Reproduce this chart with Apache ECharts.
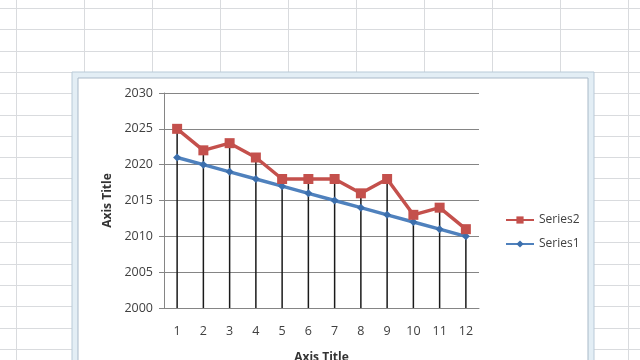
<!DOCTYPE html>
<html>
<head>
<meta charset="utf-8">
<script src="https://cdn.jsdelivr.net/npm/echarts@6/dist/echarts.min.js"></script>
<style>html,body{margin:0;padding:0;background:#fff;}#c{width:640px;height:360px;}</style>
</head>
<body>
<div id="c"></div>
<script>
const categories = ['1','2','3','4','5','6','7','8','9','10','11','12'];
const series1 = [2021, 2020, 2019, 2018, 2017, 2016, 2015, 2014, 2013, 2012, 2011, 2010];
const series2 = [2025, 2022, 2023, 2021, 2018, 2018, 2018, 2016, 2018, 2013, 2014, 2011];
const yTicks = { min: 2000, max: 2030, interval: 5 };
const seriesNames = ['Series1', 'Series2'];
const axisTitles = { x: 'Axis Title', y: 'Axis Title' };

const dropTops = series1.map((v, i) => Math.max(v, series2[i]));

// decorative spreadsheet background
const bg = [];
for (let x = 16; x < 640; x += 68) {
  bg.push({ type: 'line', shape: { x1: x + 0.5, y1: 0, x2: x + 0.5, y2: 360 }, style: { stroke: '#d9dbde', lineWidth: 1 }, z: -10 });
}
for (let y = 8; y < 360; y += 21.3) {
  const yy = Math.round(y) + 0.5;
  bg.push({ type: 'line', shape: { x1: 0, y1: yy, x2: 640, y2: yy }, style: { stroke: '#d9dbde', lineWidth: 1 }, z: -10 });
}
// chart frame
bg.push({ type: 'rect', shape: { x: 72, y: 72, width: 522, height: 300 }, style: { fill: '#e3eef5', stroke: '#b9cad8', lineWidth: 1 }, z: -9 });
bg.push({ type: 'rect', shape: { x: 78, y: 78, width: 510, height: 300 }, style: { fill: '#ffffff', stroke: '#a9b9c8', lineWidth: 1 }, z: -8 });

const chart = echarts.init(document.getElementById('c'), null, { renderer: 'canvas' });
const font = 'Open Sans, Liberation Sans, Arial, sans-serif';
chart.setOption({
  animation: false,
  backgroundColor: '#ffffff',
  graphic: bg,
  grid: { left: 164, right: 161, top: 93, bottom: 52, containLabel: false, outerBoundsMode: 'none' },
  legend: {
    orient: 'vertical',
    left: 500,
    top: 209,
    data: ['Series2', 'Series1'],
    itemWidth: 28,
    itemHeight: 9,
    itemGap: 12,
    textStyle: { fontFamily: font, fontSize: 12, color: '#404040' }
  },
  xAxis: {
    type: 'category',
    data: categories,
    boundaryGap: true,
    name: axisTitles.x,
    nameLocation: 'middle',
    nameGap: 44,
    nameTextStyle: { fontFamily: font, fontSize: 12, fontWeight: 'bold', color: '#333' },
    axisLine: { lineStyle: { color: '#858585', width: 1 } },
    axisTick: { show: false },
    axisLabel: { fontFamily: font, fontSize: 12.5, color: '#404040', margin: 17 },
    splitLine: { show: false }
  },
  yAxis: {
    type: 'value',
    min: yTicks.min,
    max: yTicks.max,
    interval: yTicks.interval,
    name: axisTitles.y,
    nameLocation: 'middle',
    nameGap: 50,
    nameRotate: 90,
    nameTextStyle: { fontFamily: font, fontSize: 12, fontWeight: 'bold', color: '#333' },
    axisLine: { show: true, lineStyle: { color: '#858585', width: 1 } },
    axisTick: { show: true, length: 5, lineStyle: { color: '#858585' } },
    axisLabel: { fontFamily: font, fontSize: 12.5, color: '#404040', margin: 11, formatter: v => String(v) },
    splitLine: { show: true, lineStyle: { color: '#858585', width: 1 } }
  },
  series: [
    {
      name: 'droplines',
      type: 'custom',
      z: 1,
      data: dropTops.map((v, i) => [i, v]),
      renderItem: function (params, api) {
        const top = api.coord([api.value(0), api.value(1)]);
        const bottom = api.coord([api.value(0), yTicks.min]);
        return {
          type: 'line',
          shape: { x1: top[0], y1: top[1], x2: bottom[0], y2: bottom[1] },
          style: { stroke: '#1a1a1a', lineWidth: 1.5 }
        };
      }
    },
    {
      name: seriesNames[0],
      type: 'line',
      z: 3,
      data: series1,
      symbol: 'diamond',
      symbolSize: 8,
      lineStyle: { color: '#4f81bd', width: 3.5 },
      itemStyle: { color: '#3c6fad' }
    },
    {
      name: seriesNames[1],
      type: 'line',
      z: 4,
      data: series2,
      symbol: 'rect',
      symbolSize: 10,
      lineStyle: { color: '#c4504c', width: 3.5 },
      itemStyle: { color: '#c4504c' }
    }
  ]
});
</script>
</body>
</html>
